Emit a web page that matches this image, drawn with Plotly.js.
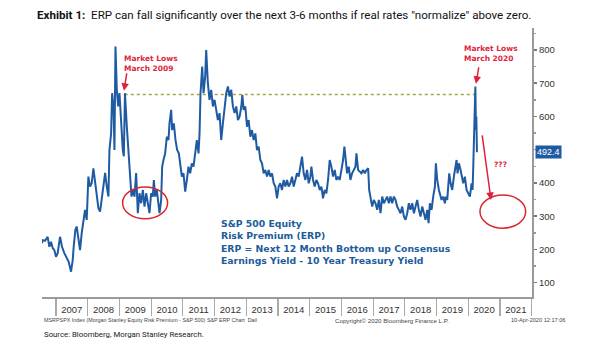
<!DOCTYPE html>
<html>
<head>
<meta charset="utf-8">
<script src="https://cdn.plot.ly/plotly-3.0.1.min.js"></script>
<style>
  html, body { margin: 0; padding: 0; background: #fff; }
  #chart { width: 605px; height: 341px; }
</style>
</head>
<body>
<div id="chart"></div>
<script>
// ---- Data (decimal years, ERP in bp) ----
const erpYears = [
  2006.56,2006.58,2006.655,2006.739,2006.792,2006.844,2006.897,2006.950,2007.002,2007.055,
  2007.129,2007.192,2007.265,2007.318,2007.402,2007.476,2007.529,2007.560,2007.613,2007.655,
  2007.718,2007.760,2007.813,2007.865,2007.918,2007.971,2008.023,2008.076,2008.128,2008.181,
  2008.234,2008.286,2008.339,2008.392,2008.444,2008.497,2008.550,2008.602,2008.655,2008.686,
  2008.739,2008.770,2008.813,2008.844,2008.876,2008.918,2008.960,2009.002,2009.055,2009.107,
  2009.139,2009.175,2009.234,2009.286,2009.339,2009.381,2009.423,2009.476,2009.528,2009.581,
  2009.633,2009.686,2009.738,2009.791,2009.844,2009.896,2009.949,2010.001,2010.054,2010.086,
  2010.128,2010.180,2010.233,2010.265,2010.317,2010.349,2010.391,2010.443,2010.496,2010.549,
  2010.580,2010.633,2010.664,2010.717,2010.770,2010.822,2010.875,2010.917,2010.970,2011.022,
  2011.075,2011.128,2011.180,2011.233,2011.285,2011.338,2011.391,2011.443,2011.496,2011.528,
  2011.559,2011.612,2011.654,2011.706,2011.738,2011.791,2011.843,2011.896,2011.949,2012.001,
  2012.054,2012.106,2012.159,2012.212,2012.264,2012.317,2012.370,2012.422,2012.475,2012.527,
  2012.580,2012.633,2012.685,2012.738,2012.791,2012.844,2012.875,2012.917,2012.970,2013.023,
  2013.075,2013.128,2013.180,2013.233,2013.286,2013.338,2013.391,2013.444,2013.496,2013.549,
  2013.601,2013.654,2013.707,2013.759,2013.812,2013.865,2013.917,2013.970,2014.022,2014.075,
  2014.128,2014.180,2014.233,2014.286,2014.338,2014.391,2014.443,2014.496,2014.549,2014.601,
  2014.654,2014.707,2014.759,2014.812,2014.865,2014.917,2014.970,2015.022,2015.054,2015.107,
  2015.159,2015.212,2015.264,2015.317,2015.370,2015.422,2015.475,2015.528,2015.580,2015.633,
  2015.685,2015.738,2015.791,2015.843,2015.896,2015.949,2016.002,2016.054,2016.096,2016.138,
  2016.181,2016.233,2016.286,2016.338,2016.391,2016.444,2016.475,2016.528,2016.580,2016.633,
  2016.686,2016.738,2016.791,2016.844,2016.875,2016.917,2016.970,2017.023,2017.075,2017.128,
  2017.180,2017.233,2017.286,2017.338,2017.391,2017.444,2017.496,2017.549,2017.601,2017.654,
  2017.707,2017.759,2017.812,2017.865,2017.917,2017.970,2018.022,2018.075,2018.128,2018.180,
  2018.233,2018.286,2018.338,2018.391,2018.443,2018.496,2018.549,2018.601,2018.654,2018.707,
  2018.749,2018.791,2018.843,2018.896,2018.949,2018.980,2019.022,2019.075,2019.106,2019.159,
  2019.211,2019.264,2019.295,2019.338,2019.369,2019.401,2019.443,2019.495,2019.548,2019.601,
  2019.632,2019.664,2019.706,2019.759,2019.790,2019.843,2019.895,2019.948,2020.001,2020.053,
  2020.106,2020.137,2020.159,2020.180,2020.205,2020.225,2020.245,2020.255,2020.265,2020.275
];
const erpValues = [
  219,228,226,238,208,223,204,198,178,189,
  238,208,189,178,163,133,168,208,259,269,
  229,198,249,289,319,289,419,389,399,444,
  399,369,324,314,349,399,430,389,359,499,
  549,670,630,499,810,680,630,670,580,499,
  480,670,569,489,399,359,379,359,430,309,
  369,339,379,329,369,339,309,369,359,409,
  359,379,329,309,349,449,469,489,539,529,
  579,620,559,579,529,499,489,449,419,429,
  374,409,449,429,459,449,499,529,489,549,
  670,750,670,720,800,700,650,680,630,650,
  620,589,610,529,579,630,670,690,660,680,
  630,610,630,589,600,630,665,620,630,569,
  589,539,559,529,549,499,509,469,459,429,
  439,419,439,419,429,399,389,354,389,399,
  379,409,389,409,389,399,419,389,409,429,
  419,449,479,429,409,439,399,419,449,409,
  389,409,399,379,389,354,379,369,409,469,
  449,419,439,409,419,409,439,469,509,469,
  429,449,409,429,439,449,489,439,434,429,
  439,429,439,444,379,359,329,349,339,319,
  349,309,359,339,349,359,339,359,339,359,
  349,329,319,309,329,299,289,309,339,319,
  339,309,329,349,319,299,329,309,289,319,
  279,339,319,359,389,459,409,379,369,349,
  359,339,359,349,389,429,399,379,419,449,
  469,429,459,439,419,399,419,379,369,359,
  399,379,449,529,630,690,559,600,549,492.4
];
const lastValue = 492.4;
const refLineYears = [2009.17, 2020.23];
const refLineValue = 666;
const yearLabels = [2007,2008,2009,2010,2011,2012,2013,2014,2015,2016,2017,2018,2019,2020,2021];
const yearBoundaries = [2007,2008,2009,2010,2011,2012,2013,2014,2015,2016,2017,2018,2019,2020,2021,2022];
const rightTicks = [100,200,300,400,600,700,800];

// decimal year -> date string
function dec(d) {
  const y = Math.floor(d);
  const s = Date.UTC(y, 0, 1), e = Date.UTC(y + 1, 0, 1);
  return new Date(s + (d - y) * (e - s)).toISOString().slice(0, 19).replace('T', ' ');
}

const BLUE = '#1f5ba3';
const RED = '#e01f3d';
const TXTBLUE = '#1d5c9c';
const GRAY = '#9a9a9a';

const traces = [
  {
    x: refLineYears.map(dec), y: refLineYears.map(() => refLineValue),
    type: 'scatter', mode: 'lines',
    line: { color: '#a3a548', width: 1.5, dash: 'dot' }, hoverinfo: 'skip'
  },
  {
    x: erpYears.map(dec), y: erpValues,
    type: 'scatter', mode: 'lines',
    line: { color: BLUE, width: 2 }, name: 'ERP'
  }
];

const annFontRed = { family: 'DejaVu Sans', size: 7.5, color: RED, weight: 'bold' };
const annFontBlue = { family: 'DejaVu Sans', size: 9.3, color: TXTBLUE, weight: 'bold' };
const footY = -0.087;

const layout = {
  width: 605, height: 341,
  margin: { l: 42, r: 73, t: 28, b: 44, pad: 0 },
  paper_bgcolor: '#fff', plot_bgcolor: '#fff',
  showlegend: false,
  title: {
    text: '<b>Exhibit 1:</b>  ERP can fall significantly over the next 3-6 months if real rates "normalize" above zero.',
    x: 37 / 605, xanchor: 'left', xref: 'container',
    y: 1 - 15 / 341, yanchor: 'middle', yref: 'container',
    font: { family: 'Roboto', size: 11.6, color: '#111' }
  },
  xaxis: {
    type: 'date',
    range: [dec(2006.56), dec(2022.01)],
    tickmode: 'array',
    tickvals: yearLabels.map(y => dec(y + 0.5)),
    ticktext: yearLabels.map(String),
    ticks: '',
    ticklabelstandoff: 3,
    tickfont: { family: 'Liberation Sans', size: 9.5, color: '#333' },
    showline: true, linecolor: GRAY, linewidth: 1.5,
    showgrid: false, zeroline: false,
    minor: {
      tickmode: 'array',
      tickvals: yearBoundaries.map(dec),
      ticks: 'outside', ticklen: 17, tickwidth: 1.2, tickcolor: '#aaa', showgrid: false
    },
    fixedrange: true
  },
  yaxis: {
    side: 'right',
    range: [57, 866],
    tickmode: 'array', tickvals: rightTicks,
    ticks: 'outside', ticklen: 3, tickwidth: 1.5, tickcolor: '#777',
    tickfont: { family: 'Liberation Sans', size: 9.5, color: '#333' },
    showline: true, linecolor: GRAY, linewidth: 2,
    showgrid: false, zeroline: false,
    minor: { dtick: 50, ticks: 'outside', ticklen: 2, tickcolor: '#999', showgrid: false },
    fixedrange: true
  },
  shapes: [
    { type: 'circle', xref: 'x', yref: 'y', x0: dec(2009.10), x1: dec(2010.52), y0: 292, y1: 388,
      line: { color: '#d9262b', width: 1.5 } },
    { type: 'circle', xref: 'x', yref: 'y', x0: dec(2020.37), x1: dec(2021.81), y0: 264, y1: 364,
      line: { color: '#d9262b', width: 1.5 } }
  ],
  annotations: [
    { x: dec(2009.097), y: 759, xref: 'x', yref: 'y', xanchor: 'left', yanchor: 'middle', align: 'left',
      text: 'Market Lows<br>March 2009', showarrow: false, font: annFontRed },
    { x: dec(2019.80), y: 789, xref: 'x', yref: 'y', xanchor: 'left', yanchor: 'middle', align: 'left',
      text: 'Market Lows<br>March 2020', showarrow: false, font: annFontRed },
    { x: dec(2021.016), y: 457, xref: 'x', yref: 'y', xanchor: 'center', yanchor: 'middle',
      text: '???', showarrow: false, font: annFontRed },
    { x: dec(2009.144), y: 677, xref: 'x', yref: 'y', ax: 3, ay: -19, text: '',
      showarrow: true, arrowhead: 2, arrowsize: 1, arrowwidth: 1.5, arrowcolor: RED },
    { x: dec(2020.245), y: 698, xref: 'x', yref: 'y', ax: 3, ay: -18, text: '',
      showarrow: true, arrowhead: 2, arrowsize: 1, arrowwidth: 1.5, arrowcolor: RED },
    { x: dec(2020.717), y: 349, xref: 'x', yref: 'y', ax: -9, ay: -66, text: '',
      showarrow: true, arrowhead: 2, arrowsize: 1, arrowwidth: 1.5, arrowcolor: RED },
    { x: dec(2012.128), y: 259, xref: 'x', yref: 'y', xanchor: 'left', yanchor: 'middle', align: 'left',
      text: 'S&P 500 Equity<br>Risk Premium (ERP)', showarrow: false, font: annFontBlue },
    { x: dec(2012.128), y: 184, xref: 'x', yref: 'y', xanchor: 'left', yanchor: 'middle', align: 'left',
      text: 'ERP = Next 12 Month Bottom up Consensus<br>Earnings Yield - 10 Year Treasury Yield',
      showarrow: false, font: annFontBlue },
    { x: 1, y: lastValue, xref: 'paper', yref: 'y', xanchor: 'left', yanchor: 'middle',
      xshift: 3, text: String(lastValue), showarrow: false, bgcolor: BLUE, borderpad: 1,
      font: { family: 'Liberation Sans', size: 9, color: '#fff' } },
    { x: 0, y: footY, xref: 'paper', yref: 'paper', xanchor: 'left', yanchor: 'middle',
      text: 'MSRPSPX Index (Morgan Stanley Equity Risk Premium - S&P 500) S&P ERP Chart  Dail',
      showarrow: false, font: { family: 'Liberation Sans', size: 5.4, color: '#444' } },
    { x: 291 / 490, y: footY, xref: 'paper', yref: 'paper', xanchor: 'left', yanchor: 'middle',
      text: 'Copyright© 2020 Bloomberg Finance L.P.', showarrow: false,
      font: { family: 'Liberation Sans', size: 6.2, color: '#444' } },
    { x: 467 / 490, y: footY, xref: 'paper', yref: 'paper', xanchor: 'left', yanchor: 'middle',
      text: '10-Apr-2020 12:17:06', showarrow: false,
      font: { family: 'Liberation Sans', size: 5.6, color: '#444' } },
    { x: 0, y: -0.138, xref: 'paper', yref: 'paper', xanchor: 'left', yanchor: 'middle',
      text: 'Source: Bloomberg, Morgan Stanley Research.', showarrow: false,
      font: { family: 'Roboto', size: 7.8, color: '#222' } }
  ]
};

Plotly.newPlot('chart', traces, layout, { staticPlot: true, displayModeBar: false });
</script>
</body>
</html>
